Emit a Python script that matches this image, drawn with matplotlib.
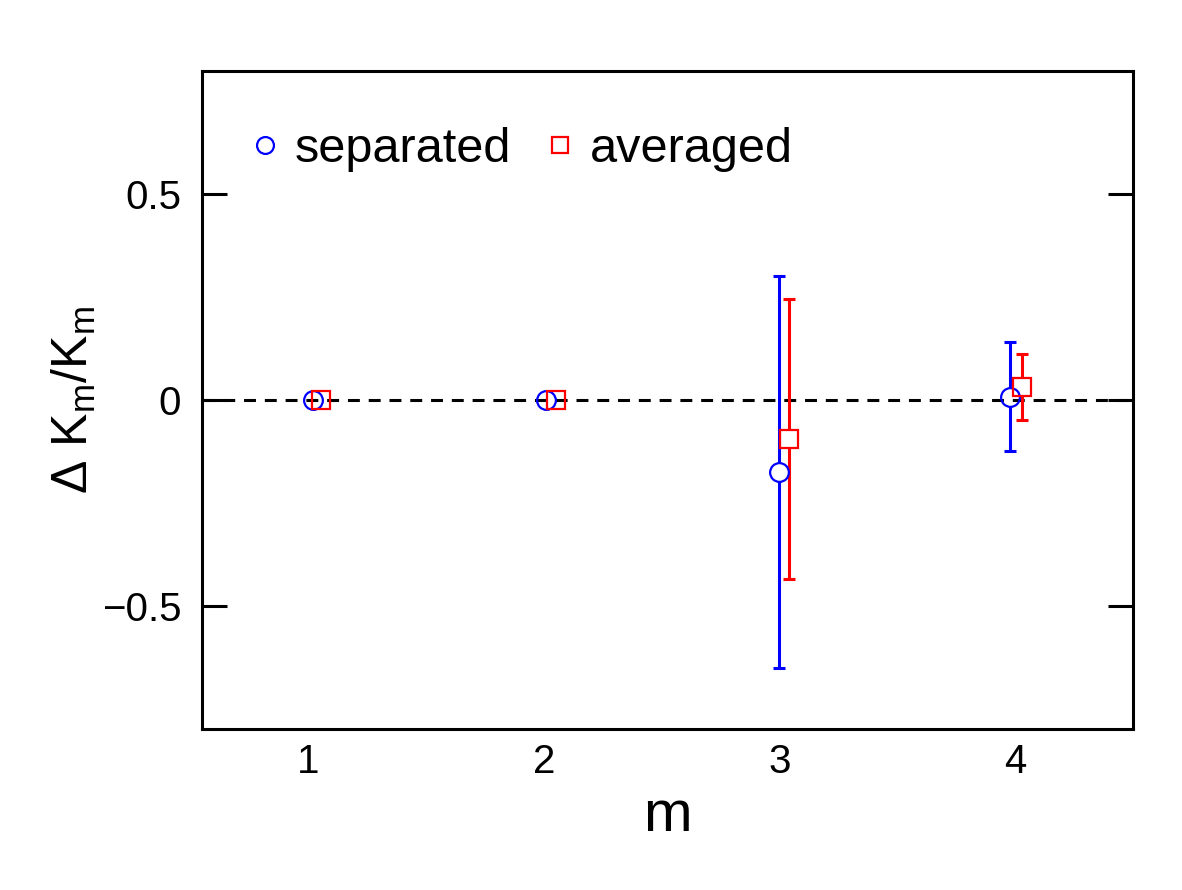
import matplotlib

matplotlib.use("Agg")

import matplotlib.pyplot as plt
from matplotlib.ticker import FuncFormatter


# values
m_sep = [1.02, 2.01, 3.00, 3.98]
y_sep = [0.0, 0.0, -0.175, 0.008]
err_sep = [0.0, 0.0, 0.476, 0.133]

m_avg = [1.055, 2.05, 3.04, 4.03]
y_avg = [0.0, 0.0, -0.095, 0.032]
err_avg = [0.0, 0.0, 0.340, 0.081]

y_ticks = [-0.5, 0.0, 0.5]
x_ticks = [1, 2, 3, 4]

BLUE = "#0000ff"
RED = "#ff0000"
LW = 2.2
MS = 13.5

plt.rcParams["font.family"] = ["Liberation Sans", "DejaVu Sans"]
plt.rcParams["mathtext.default"] = "regular"

fig = plt.figure(figsize=(11.82, 8.9), dpi=100)
ax = fig.add_axes([202 / 1182, 1 - 729 / 890, 931 / 1182, 658 / 890])
ax.set_xlim(0.55, 4.5)
ax.set_ylim(-0.8, 0.8)

ax.axhline(0, color="black", lw=LW, linestyle=(0, (3.9, 2.9)), zorder=1)


def draw_bars(xs, ys, errs, color):
    # bars start at the marker edge, like the original
    px_per_unit = ax.transData.transform((0, 1))[1] - ax.transData.transform((0, 0))[1]
    gap = (MS * fig.dpi / 72 / 2) / px_per_unit
    for x, y, e in zip(xs, ys, errs):
        if e <= gap:
            continue
        ax.vlines([x, x], [y + gap, y - gap], [y + e, y - e], color=color, lw=LW, zorder=2)
        ax.plot([x, x], [y + e, y - e], ls="none", marker="_", ms=9, mew=LW,
                color=color, zorder=2)


draw_bars(m_sep, y_sep, err_sep, BLUE)
draw_bars(m_avg, y_avg, err_avg, RED)

ax.plot(m_sep, y_sep, ls="none", marker="o", ms=MS, mfc="none", mec=BLUE, mew=1.6,
        label="separated", zorder=3)
ax.plot(m_avg, y_avg, ls="none", marker="s", ms=MS * 0.95, mfc="none", mec=RED, mew=1.6,
        label="averaged", zorder=3)

ax.set_xticks(x_ticks)
ax.set_yticks(y_ticks)
ax.yaxis.set_major_formatter(
    FuncFormatter(lambda v, _: "0" if v == 0 else f"{v:g}".replace("-", "\u2212"))
)
ax.tick_params(axis="x", length=0, pad=10, labelsize=29)
ax.tick_params(axis="y", direction="in", length=18, width=LW, pad=15, labelsize=29,
               left=True, right=True)
for s in ax.spines.values():
    s.set_linewidth(LW)

ax.set_xlabel("m", fontsize=42, labelpad=6)
ax.set_ylabel("\u0394 K$_m$/K$_m$", fontsize=36, labelpad=2.5)

ax.legend(loc="center left", bbox_to_anchor=(0.0467, 0.88), ncol=2, frameon=False,
          fontsize=35, markerscale=0.9, handlelength=0.8, handletextpad=0.22,
          columnspacing=0.6, borderaxespad=0, borderpad=0)

fig.savefig("out.png", dpi=100)
